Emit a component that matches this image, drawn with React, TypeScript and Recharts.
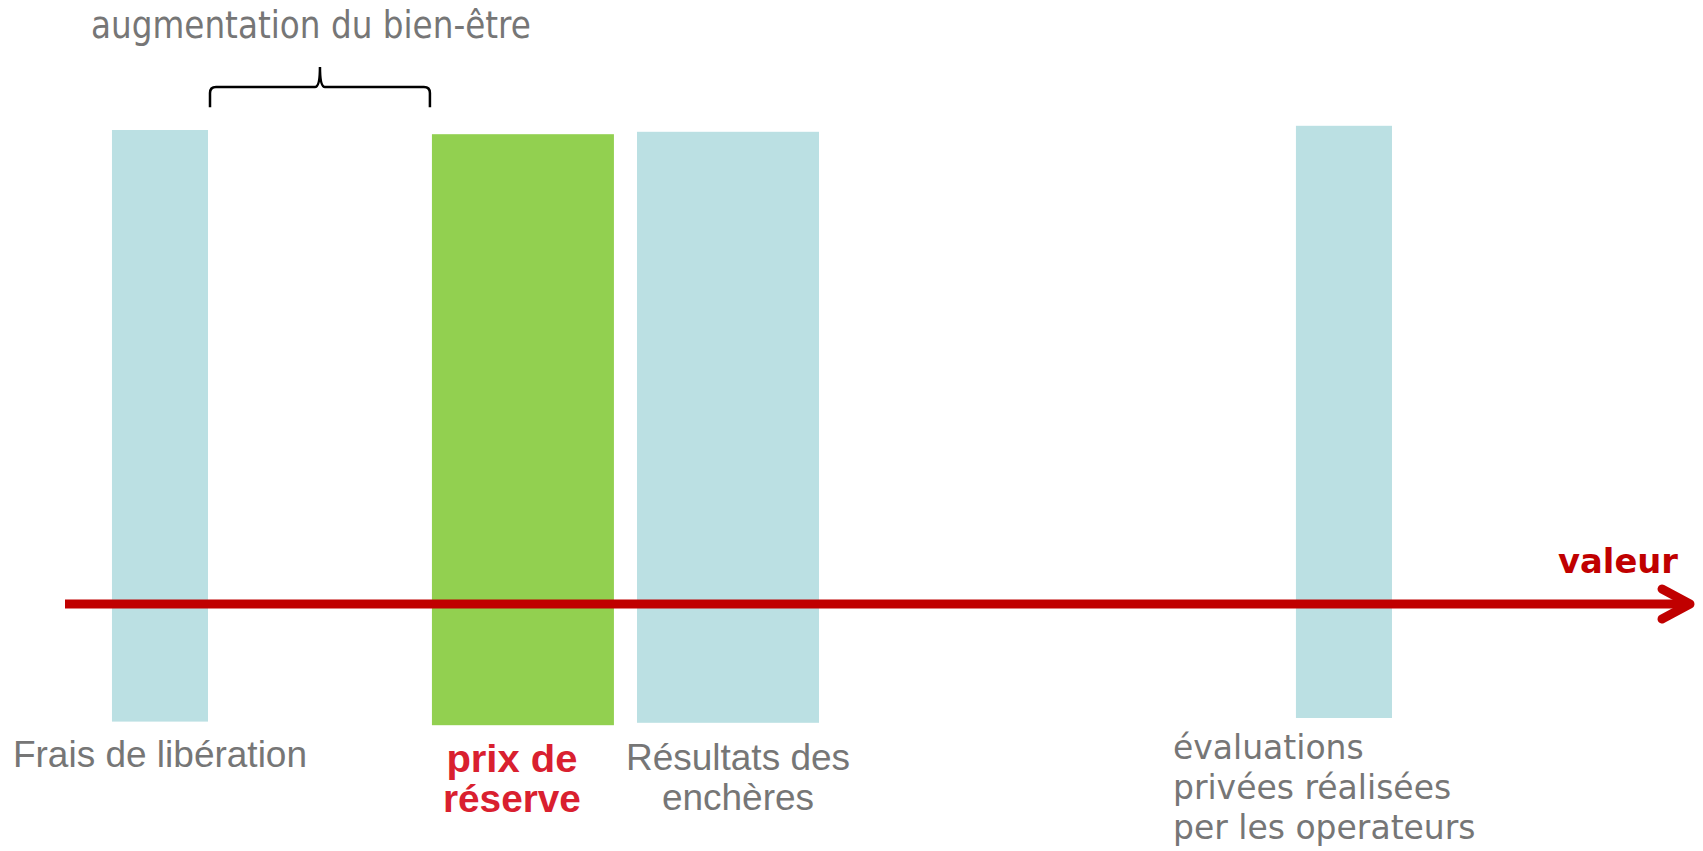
import React from "react";
import { ComposedChart, XAxis, YAxis, ReferenceArea, ReferenceLine, Line } from "recharts";

// ─── Data ─────────────────────────────────────────────────────────────────────

const barNames = [
  "Frais de libération",
  "prix de réserve",
  "Résultats des enchères",
  "évaluations privées réalisées per les operateurs",
];
const labelLines = [
  ["Frais de libération"],
  ["prix de", "réserve"],
  ["Résultats des", "enchères"],
  ["évaluations", "privées réalisées", "per les operateurs"],
];
// interval on the value axis covered by each band
const valueFrom = [2.89, 22.58, 35.2, 75.75];
const valueTo = [8.8, 33.78, 46.4, 81.66];
// vertical extent of each band (axis sits at 0)
const bandLow = [-1.96, -2.02, -1.98, -1.9];
const bandHigh = [7.9, 7.83, 7.87, 7.97];

const axisTitle = "valeur";
const braceTitle = "augmentation du bien-être";
const braceLow = 8.28;
const braceHigh = 8.95;

// ─── Styles ───────────────────────────────────────────────────────────────────

const GRAY = "#767676";
const RED = "#C00000";
const ARIAL = "'Liberation Sans', Arial, sans-serif";
const TAHOMA = "'DejaVu Sans', Verdana, sans-serif";

const BAR_FILL = ["#BBE0E3", "#92D050", "#BBE0E3", "#BBE0E3"];

const LABEL_STYLE = [
  { family: ARIAL, size: 37, weight: 400, color: GRAY, anchor: "middle", dx: 0, dy: 45, lh: 40, fit: null },
  { family: ARIAL, size: 38, weight: 700, color: "#D9202F", anchor: "middle", dx: -11, dy: 46.5, lh: 40, fit: [131, 138] },
  { family: ARIAL, size: 37, weight: 400, color: GRAY, anchor: "middle", dx: 10, dy: 47, lh: 40, fit: null },
  { family: TAHOMA, size: 33, weight: 400, color: GRAY, anchor: "start", dx: -123, dy: 41, lh: 40, fit: null },
];

const bars = barNames.map((name, i) => ({
  name,
  from: valueFrom[i],
  to: valueTo[i],
  low: bandLow[i],
  high: bandHigh[i],
  lines: labelLines[i],
}));

// ─── Shapes ───────────────────────────────────────────────────────────────────

function BandShape(props: any) {
  const { x, y, width, height, i } = props;
  const st = LABEL_STYLE[i];
  const bottom = y + height;
  const tx = st.anchor === "start" ? x + st.dx : x + width / 2 + st.dx;
  return (
    <g>
      <rect x={x} y={y} width={width} height={height} fill={BAR_FILL[i]} />
      <text
        fontFamily={st.family}
        fontSize={st.size}
        fontWeight={st.weight}
        fill={st.color}
        textAnchor={st.anchor}
      >
        {bars[i].lines.map((l, k) => (
          <tspan
            key={k}
            x={tx}
            y={bottom + st.dy + k * st.lh}
            textLength={st.fit ? st.fit[k] : undefined}
            lengthAdjust={st.fit ? "spacingAndGlyphs" : undefined}
          >
            {l}
          </tspan>
        ))}
      </text>
    </g>
  );
}

function BraceShape(props: any) {
  const { x, y, width, height } = props;
  const x0 = x + 2;
  const x1 = x + width - 2;
  const top = y;
  const bot = y + height;
  const h = top + 20;
  const cx = (x0 + x1) / 2;
  const r = 6;
  const d = [
    `M ${x0} ${bot} L ${x0} ${h + r} Q ${x0} ${h} ${x0 + r} ${h}`,
    `L ${cx - 5} ${h} Q ${cx} ${h} ${cx} ${top}`,
    `Q ${cx} ${h} ${cx + 5} ${h} L ${x1 - r} ${h} Q ${x1} ${h} ${x1} ${h + r} L ${x1} ${bot}`,
  ].join(" ");
  return (
    <g>
      <path d={d} fill="none" stroke="#000" strokeWidth={2.5} />
      <text
        x={cx - 9}
        y={top - 29}
        textAnchor="middle"
        fontFamily={TAHOMA}
        fontSize={37}
        fill={GRAY}
        textLength={440}
        lengthAdjust="spacingAndGlyphs"
      >
        {braceTitle}
      </text>
    </g>
  );
}

function AxisArrow(props: any) {
  const { x1, x2, y1 } = props;
  return (
    <g>
      <line x1={x1} y1={y1} x2={x2 - 4} y2={y1} stroke={RED} strokeWidth={9} />
      <polyline
        points={`${x2 - 28},${y1 - 15} ${x2},${y1} ${x2 - 28},${y1 + 15}`}
        fill="none"
        stroke={RED}
        strokeWidth={9}
        strokeLinecap="round"
        strokeLinejoin="round"
      />
      <text
        x={x2 - 12}
        y={y1 - 31}
        textAnchor="end"
        fontFamily={TAHOMA}
        fontSize={34}
        fontWeight={700}
        fill={RED}
        textLength={120}
        lengthAdjust="spacingAndGlyphs"
      >
        {axisTitle}
      </text>
    </g>
  );
}

// ─── Chart ────────────────────────────────────────────────────────────────────

export default function App() {
  return (
    <div style={{ position: "absolute", left: 0, top: 0, width: 1703, height: 851, background: "#fff" }}>
      <ComposedChart
        width={1703}
        height={851}
        data={bars}
        margin={{ top: 124, right: 13, bottom: 127, left: 65 }}
      >
        <XAxis type="number" dataKey="from" domain={[0, 100]} allowDataOverflow hide />
        <YAxis type="number" domain={[-2, 8]} allowDataOverflow hide />
        {/* invisible carrier series so the axes get their scales */}
        <Line
          dataKey="high"
          stroke="none"
          dot={false}
          activeDot={false}
          isAnimationActive={false}
          legendType="none"
        />
        {bars.map((b, i) => (
          <ReferenceArea
            key={b.name}
            x1={b.from}
            x2={b.to}
            y1={b.low}
            y2={b.high}
            ifOverflow="visible"
            fillOpacity={1}
            shape={(p: any) => <BandShape {...p} i={i} />}
          />
        ))}
        <ReferenceArea
          x1={valueTo[0]}
          x2={valueFrom[1]}
          y1={braceLow}
          y2={braceHigh}
          ifOverflow="visible"
          shape={(p: any) => <BraceShape {...p} />}
        />
        <ReferenceLine y={0} ifOverflow="visible" shape={(p: any) => <AxisArrow {...p} />} />
      </ComposedChart>
    </div>
  );
}
